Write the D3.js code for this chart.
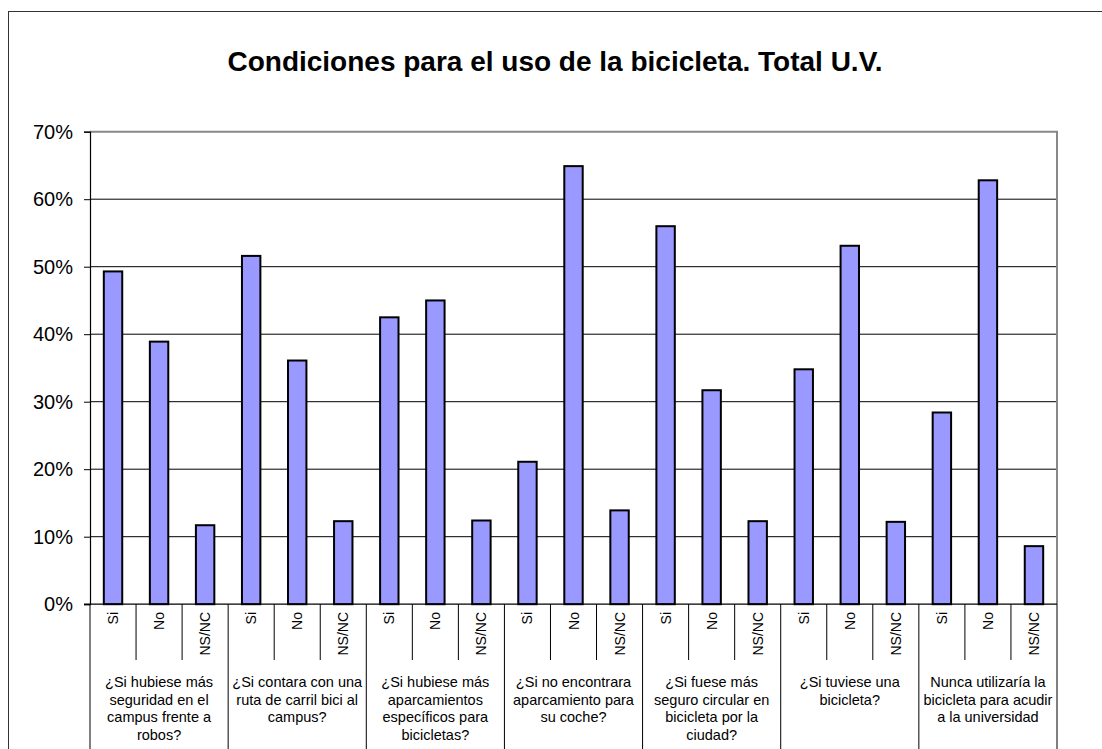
<!DOCTYPE html>
<html>
<head>
<meta charset="utf-8">
<script src="https://cdn.jsdelivr.net/npm/d3@7"></script>
<style>
  body { margin: 0; background: #fff; }
  svg text { font-family: "Liberation Sans", Arial, sans-serif; fill: #000; }
</style>
</head>
<body>
<div id="chart"></div>
<script>
const title = "Condiciones para el uso de la bicicleta. Total U.V.";

const answers = ["Si", "No", "NS/NC"];

const groups = [
    ["¿Si hubiese más", "seguridad en el", "campus frente a", "robos?"],
    ["¿Si contara con una", "ruta de carril bici al", "campus?"],
    ["¿Si hubiese más", "aparcamientos", "específicos para", "bicicletas?"],
    ["¿Si no encontrara", "aparcamiento para", "su coche?"],
    ["¿Si fuese más", "seguro circular en", "bicicleta por la", "ciudad?"],
    ["¿Si tuviese una", "bicicleta?"],
    ["Nunca utilizaría la", "bicicleta para acudir", "a la universidad"]
];

// Si, No, NS/NC per group (percent)
const values = [
    49.3, 38.9, 11.7,
    51.6, 36.1, 12.3,
    42.5, 45.0, 12.4,
    21.1, 64.9, 13.9,
    56.0, 31.7, 12.3,
    34.8, 53.1, 12.2,
    28.4, 62.8, 8.6
];

const yTicks = [0, 10, 20, 30, 40, 50, 60, 70];

const W = 1102, H = 749;
const plot = { left: 90, top: 131.7, right: 1057, bottom: 604.2 };

const svg = d3.select("#chart").append("svg")
    .attr("width", W).attr("height", H);

// outer frame
svg.append("rect")
    .attr("x", 8.5).attr("y", 11.5)
    .attr("width", W + 10).attr("height", H + 10)
    .attr("fill", "none").attr("stroke", "#333").attr("stroke-width", 1);

svg.append("text")
    .attr("x", 555).attr("y", 71)
    .attr("text-anchor", "middle")
    .style("font-size", "28px").style("font-weight", "bold")
    .text(title);

const cats = values.map((v, i) => i);
const x = d3.scaleBand().domain(cats)
    .range([plot.left, plot.right])
    .paddingInner(0.6).paddingOuter(0.3);
const slot = d3.scaleBand().domain(cats).range([plot.left, plot.right]);

const y = d3.scaleLinear().domain([0, 70]).range([plot.bottom, plot.top]);

// gridlines
svg.append("g").selectAll("line")
    .data(yTicks.filter(t => t > 0 && t < 70))
    .enter().append("line")
    .attr("x1", plot.left).attr("x2", plot.right)
    .attr("y1", d => y(d)).attr("y2", d => y(d))
    .attr("stroke", "#000").attr("stroke-width", 1);

// plot area border (top/right gray)
svg.append("path")
    .attr("d", `M${plot.left},${plot.top}H${plot.right}V${plot.bottom}`)
    .attr("fill", "none").attr("stroke", "#888").attr("stroke-width", 2);

// bars
svg.append("g").selectAll("rect")
    .data(values)
    .enter().append("rect")
    .attr("x", (d, i) => x(i))
    .attr("y", d => y(d))
    .attr("width", x.bandwidth())
    .attr("height", d => y(0) - y(d))
    .attr("fill", "#9999ff")
    .attr("stroke", "#000").attr("stroke-width", 2);

// y axis
const yAxis = svg.append("g")
    .attr("transform", `translate(${plot.left},0)`)
    .call(d3.axisLeft(y).tickValues(yTicks).tickSize(6).tickPadding(11)
        .tickFormat(d => d + "%"));
yAxis.select(".domain").attr("stroke", "#000").attr("stroke-width", 1.2);
yAxis.selectAll(".tick line").attr("stroke", "#000");
yAxis.selectAll(".tick text").style("font-size", "20px");

// x axis baseline
svg.append("line")
    .attr("x1", plot.left - 6).attr("x2", plot.right)
    .attr("y1", plot.bottom).attr("y2", plot.bottom)
    .attr("stroke", "#000").attr("stroke-width", 1.2);

// category separators
const seps = d3.range(values.length + 1);
svg.append("g").selectAll("line")
    .data(seps)
    .enter().append("line")
    .attr("x1", d => d < values.length ? slot(d) : plot.right)
    .attr("x2", d => d < values.length ? slot(d) : plot.right)
    .attr("y1", plot.bottom)
    .attr("y2", d => d % 3 === 0 ? H : 660)
    .attr("stroke", "#000").attr("stroke-width", 1);

// answer labels (rotated)
svg.append("g").selectAll("text")
    .data(values)
    .enter().append("text")
    .attr("transform", (d, i) => `translate(${slot(i) + slot.bandwidth() / 2 + 5},612) rotate(-90)`)
    .attr("text-anchor", "end")
    .style("font-size", "14px")
    .text((d, i) => answers[i % 3]);

// group labels
const gl = svg.append("g").selectAll("text")
    .data(groups)
    .enter().append("text")
    .attr("text-anchor", "middle")
    .style("font-size", "14.5px")
    .attr("x", (d, i) => slot(i * 3) + slot.bandwidth() * 1.5)
    .attr("y", 687);
gl.selectAll("tspan")
    .data(d => d)
    .enter().append("tspan")
    .attr("x", function() { return d3.select(this.parentNode).attr("x"); })
    .attr("dy", (d, i) => i === 0 ? 0 : 17.6)
    .text(d => d);
</script>
</body>
</html>
